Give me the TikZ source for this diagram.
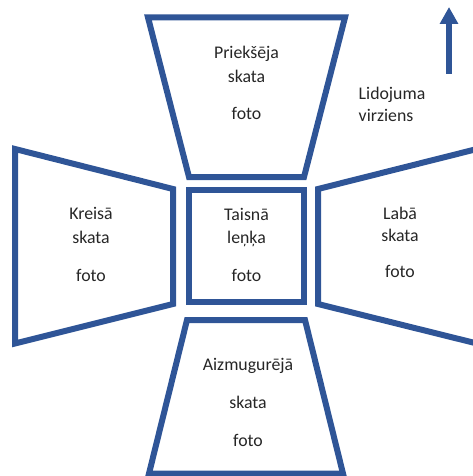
\documentclass[tikz,border=0pt]{standalone}
\usepackage{fontspec}
\setmainfont{Carlito}
\usetikzlibrary{arrows.meta}
\definecolor{frameblue}{HTML}{2F5597}
\begin{document}
\begin{tikzpicture}[x=1pt,y=-1pt,
  frame/.style={draw=frameblue,line width=6pt,line join=miter},
  lbl/.style={anchor=base,inner sep=0pt,font=\fontsize{17.8}{24}\selectfont,text=black!85},
  lblL/.style={lbl,anchor=base west}]
\useasboundingbox (0,0) rectangle (473,476);
\clip (0,0) rectangle (473,476);
% frames
\draw[frame] (148,17.5) -- (345,17.5) -- (304,177) -- (189,177) -- cycle;
\draw[frame] (188.5,190) rectangle (303.5,301.5);
\draw[frame] (15,149) -- (173,189) -- (173,304) -- (15,343.5) -- cycle;
\draw[frame] (318,189) -- (477,149) -- (477,343.5) -- (318,304) -- cycle;
\draw[frame] (187,320) -- (305,320) -- (343,473.5) -- (149,473.5) -- cycle;
% top
\node[lbl] (t1) at (246.5,58.3) {Priekšēja};
\node[lbl] (t2) at (246.5,82.3) {skata};
\node[lbl] (t3) at (246.5,120) {foto};
% left
\node[lbl] (l1) at (91,219.3) {Kreisā};
\node[lbl] (l2) at (91,243) {skata};
\node[lbl] (l3) at (91,281) {foto};
% centre
\node[lbl] (c1) at (246.5,220.7) {Taisnā};
\node[lbl] (c2) at (246.5,243.5) {leņķa};
\node[lbl] (c3) at (246.5,281.7) {foto};
% right
\node[lbl] (r1) at (400,219) {Labā};
\node[lbl] (r2) at (400,241) {skata};
\node[lbl] (r3) at (400,277) {foto};
% bottom
\node[lbl] (b1) at (248,370) {Aizmugurējā};
\node[lbl] (b2) at (248,408) {skata};
\node[lbl] (b3) at (248,446) {foto};
% flight direction
\node[lblL] (d1) at (358.5,99.5) {Lidojuma};
\node[lblL] (d2) at (358.5,121.5) {virziens};
\coordinate (ab) at (449,74);
\coordinate (at) at (449,7);
\draw[frameblue,line width=5.5pt,-{Triangle[width=17.6pt,length=17pt]}] (ab) -- (at);
\end{tikzpicture}
\end{document}
